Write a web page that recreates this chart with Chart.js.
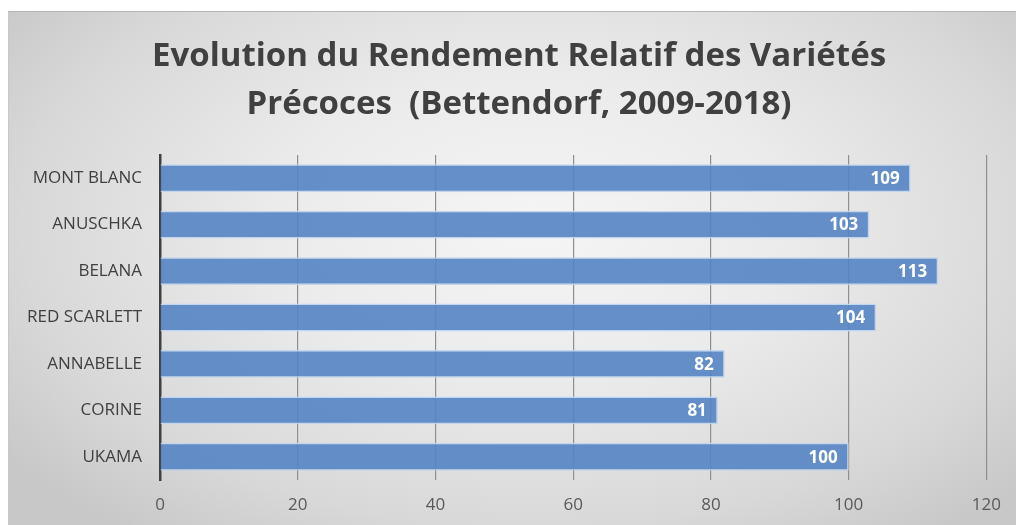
<!DOCTYPE html>
<html>
<head>
<meta charset="utf-8">
<script src="https://cdn.jsdelivr.net/npm/chart.js@4.4.0/dist/chart.umd.min.js"></script>
<style>
  html, body { margin: 0; padding: 0; background: #fff; }
  #frame {
    position: absolute; left: 8px; top: 11px; width: 1008px; height: 514px;
    border-top: 1px solid #b4b4b4; border-left: 1px solid #c8c8c8;
    background: radial-gradient(ellipse 65% 75% at 52% 42%, #f5f5f5 0%, #ebebeb 40%, #d8d8d8 78%, #c8c8c8 100%);
  }
  #chart { position: absolute; left: 0; top: 0; }
</style>
</head>
<body>
<div id="frame"></div>
<canvas id="chart" width="1016" height="525"></canvas>
<script>
// Daten
const varietes = ['MONT BLANC', 'ANUSCHKA', 'BELANA', 'RED SCARLETT', 'ANNABELLE', 'CORINE', 'UKAMA'];
const rendement = [109, 103, 113, 104, 82, 81, 100];
const titre = ['Evolution du Rendement Relatif des Variétés', 'Précoces  (Bettendorf, 2009-2018)'];
const xMin = 0, xMax = 120, xStep = 20;

// Titel zentriert über das ganze Bild (nicht nur Plotbereich)
const titlePlugin = {
    id: 'titlePlugin',
    afterDraw(chart) {
        const ctx = chart.ctx;
        ctx.save();
        ctx.font = 'bold 33px "Open Sans"';
        ctx.fillStyle = '#404040';
        ctx.textAlign = 'center';
        ctx.textBaseline = 'alphabetic';
        ctx.fillText(titre[0], 519, 66);
        ctx.fillText(titre[1], 519, 114);
        ctx.restore();
    }
};

// Werte in die Balken schreiben
const valueLabels = {
    id: 'valueLabels',
    afterDatasetsDraw(chart) {
        const ctx = chart.ctx;
        const meta = chart.getDatasetMeta(0);
        ctx.save();
        ctx.font = 'bold 17px "Open Sans"';
        ctx.fillStyle = '#ffffff';
        ctx.textAlign = 'right';
        ctx.textBaseline = 'middle';
        meta.data.forEach((bar, i) => {
            ctx.fillText(String(rendement[i]), bar.x - 11, bar.y + 1);
        });
        ctx.restore();
    }
};

const ctx = document.getElementById('chart').getContext('2d');
new Chart(ctx, {
    type: 'bar',
    data: {
        labels: varietes,
        datasets: [{
            data: rendement,
            backgroundColor: 'rgba(84,132,196,0.9)',
            borderColor: '#c0d5ee',
            borderWidth: 1.5,
            borderSkipped: 'left',
            categoryPercentage: 0.6,
            barPercentage: 1.0
        }]
    },
    options: {
        indexAxis: 'y',
        responsive: false,
        animation: false,
        layout: { padding: { left: 12, right: 25, top: 155, bottom: 0 } },
        plugins: {
            legend: { display: false },
            tooltip: { enabled: false },
            title: { display: false }
        },
        scales: {
            x: {
                min: xMin,
                max: xMax,
                ticks: {
                    stepSize: xStep,
                    color: '#595959',
                    font: { family: 'Open Sans', size: 17 },
                    padding: 15
                },
                grid: { color: '#8f8f8f', lineWidth: 1.2, drawTicks: false },
                border: { display: false },
                afterFit(scale) { scale.height = 45; }
            },
            y: {
                ticks: {
                    color: '#404040',
                    font: { family: 'Open Sans', size: 17 },
                    padding: 18
                },
                grid: { display: false, drawTicks: false },
                border: { display: true, color: '#404040', width: 2.5 },
                afterFit(scale) { scale.width = 148; }
            }
        }
    },
    plugins: [valueLabels, titlePlugin]
});
</script>
</body>
</html>
